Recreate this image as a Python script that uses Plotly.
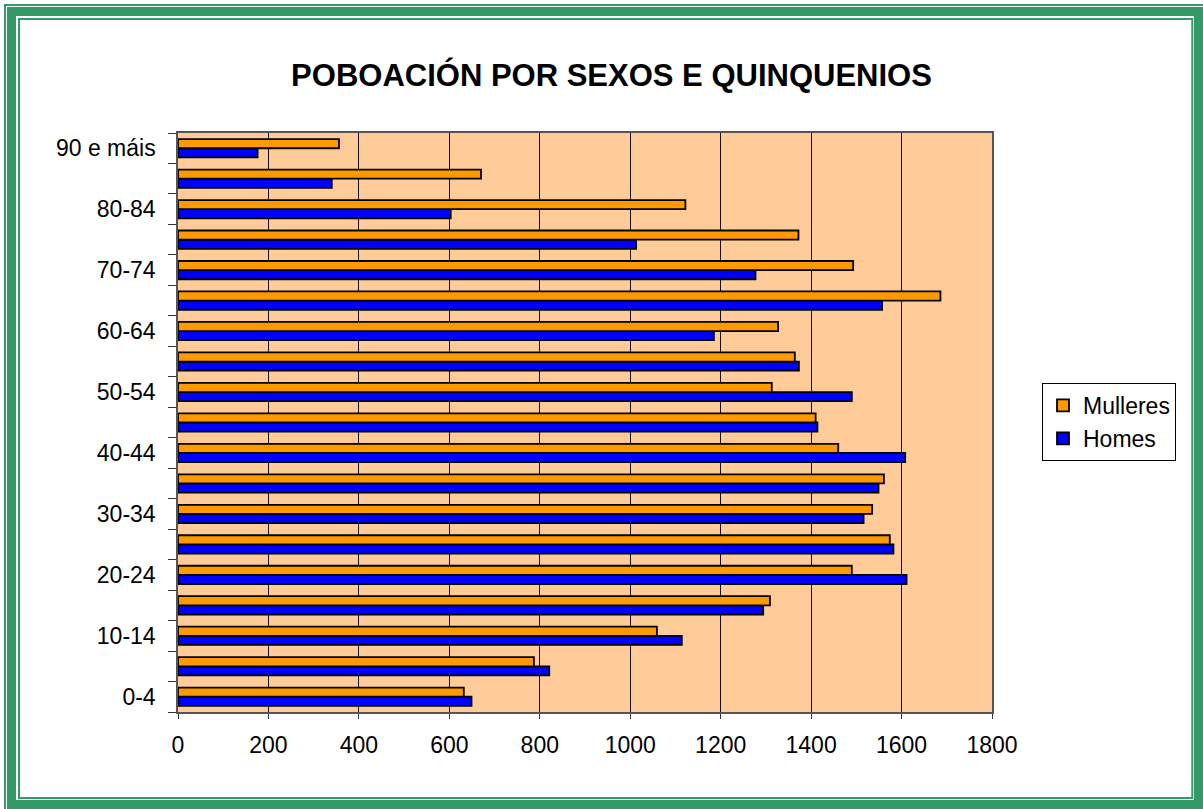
import plotly.graph_objects as go

# ---- data ----
categories = ["0-4", "5-9", "10-14", "15-19", "20-24", "25-29", "30-34", "35-39",
              "40-44", "45-49", "50-54", "55-59", "60-64", "65-69", "70-74",
              "75-79", "80-84", "85-89", "90 e máis"]
homes = [649, 821, 1114, 1294, 1611, 1582, 1516, 1549, 1608, 1414, 1490, 1373,
         1185, 1557, 1277, 1013, 603, 340, 176]
mulleres = [632, 787, 1059, 1309, 1490, 1574, 1535, 1561, 1460, 1410, 1313, 1364,
            1327, 1686, 1493, 1372, 1122, 670, 356]
y_ticktext = [c if i % 2 == 0 else "" for i, c in enumerate(categories)]
title_text = "POBOACIÓN POR SEXOS E QUINQUENIOS"

# ---- layout geometry ----
W, H = 1203, 809
L, R, T, B = 178, W - 992, 133, H - 712
PW, PH = W - L - R, H - T - B


def px(x):
    return (x - L) / PW


def py(y):
    return (H - B - y) / PH


FONT = "Liberation Sans, Arial, sans-serif"
GREEN = "#339966"

fig = go.Figure()
fig.add_trace(go.Bar(
    name="Homes", y=categories, x=homes, orientation="h",
    marker=dict(color="#0000FF", line=dict(color="black", width=1.8)),
))
fig.add_trace(go.Bar(
    name="Mulleres", y=categories, x=mulleres, orientation="h",
    marker=dict(color="#FF9900", line=dict(color="black", width=1.8)),
))

shapes = []
# frame: thick band, outer thin line, inner thin line
shapes.append(dict(type="rect", xref="paper", yref="paper",
                   x0=px(11.5), x1=px(1198.5), y0=py(11.5), y1=py(804.5),
                   line=dict(color=GREEN, width=9), layer="above"))
shapes.append(dict(type="rect", xref="paper", yref="paper",
                   x0=px(5), x1=px(1206), y0=py(5), y1=py(812),
                   line=dict(color=GREEN, width=2), layer="above"))
shapes.append(dict(type="rect", xref="paper", yref="paper",
                   x0=px(19), x1=px(1192.3), y0=py(19), y1=py(798),
                   line=dict(color=GREEN, width=2), layer="above"))

fig.update_layout(
    width=W, height=H,
    margin=dict(l=L, r=R, t=T, b=B, pad=0),
    paper_bgcolor="white",
    plot_bgcolor="#FFCC99",
    barmode="group",
    bargap=0.40,
    bargroupgap=0.0,
    font=dict(family=FONT, size=23, color="black"),
    title=dict(text="<b>" + title_text + "</b>", xref="container", yref="container",
               x=611.5 / W, y=1 - 75 / H, xanchor="center", yanchor="middle",
               font=dict(family=FONT, size=31, color="black")),
    legend=dict(x=px(1042), y=py(383), xanchor="left", yanchor="top",
                traceorder="reversed", bgcolor="white",
                bordercolor="black", borderwidth=1,
                font=dict(family=FONT, size=23)),
    xaxis=dict(range=[0, 1800], dtick=200, tick0=0,
               showgrid=True, gridcolor="#111111", gridwidth=1,
               zeroline=False, showline=True, linecolor="#555555", linewidth=1.5,
               mirror=True, ticks="outside", ticklen=5, tickcolor="#333333",
               ticklabelstandoff=7, tickfont=dict(size=23)),
    yaxis=dict(type="category", tickmode="array", tickvals=categories,
               ticktext=y_ticktext, tickson="boundaries",
               showgrid=False, zeroline=False, showline=True,
               linecolor="#555555", linewidth=1.5, mirror=True,
               ticks="outside", ticklen=8, tickcolor="#333333",
               ticklabelstandoff=16, tickfont=dict(size=23)),
    shapes=shapes,
    showlegend=True,
)

fig.write_html("out.html",
               config={"displayModeBar": False},
               post_script="document.body.style.margin='0';"
                           "document.body.style.overflow='hidden';")
